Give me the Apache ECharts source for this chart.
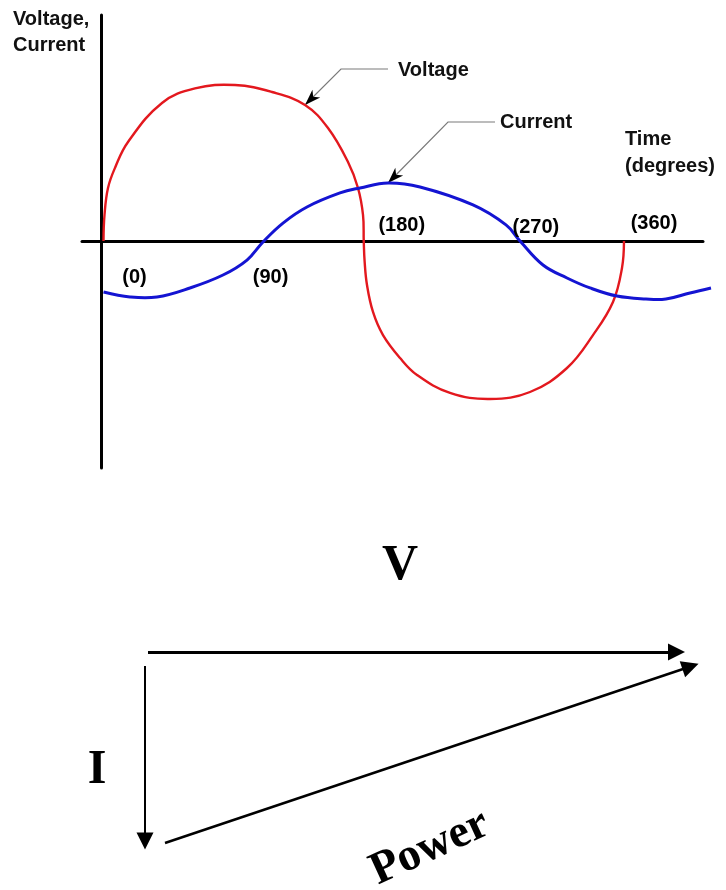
<!DOCTYPE html>
<html>
<head>
<meta charset="utf-8">
<script src="https://cdn.jsdelivr.net/npm/echarts@6/dist/echarts.min.js"></script>
<style>
  html, body { margin: 0; padding: 0; background: #fff; }
  #main { width: 726px; height: 890px; }
</style>
</head>
<body>
<div id="main"></div>
<script>
// voltage: [time in degrees, amplitude relative to peak]
const voltage = [
  [0, 0], [0.69, 0.167], [3.11, 0.34], [8, 0.47], [16.95, 0.635], [40.46, 0.885],
  [63.29, 0.978], [90.95, 1.0], [116.54, 0.955], [139.37, 0.872], [155.28, 0.724],
  [169.11, 0.506], [176.03, 0.34], [179.49, 0.167], [180, 0],
  [180.6, -0.13], [182.25, -0.282], [186.4, -0.455], [193.32, -0.603], [205.1, -0.75],
  [216.84, -0.859], [239.66, -0.974], [267.33, -1.013], [295, -0.968], [320.58, -0.814],
  [338.56, -0.603], [352.39, -0.391], [358.62, -0.173], [360, 0]
]
// current, same units
const current = [
  [0, -0.327], [18.33, -0.359], [37, -0.359], [59.83, -0.301], [82.65, -0.218],
  [99.25, -0.122], [110.32, -0.006], [124.15, 0.115], [140.75, 0.218], [163.58, 0.308],
  [177.41, 0.34], [196.78, 0.372], [218.91, 0.346], [255.57, 0.231], [278.39, 0.103],
  [288.08, 0], [303.99, -0.154], [320.58, -0.237], [336.49, -0.301], [355.16, -0.353],
  [375.22, -0.372], [389.05, -0.372], [405.65, -0.333], [420.18, -0.301]
]
const tickDegrees = [0, 90, 180, 270, 360]

// phasor diagram, diagram units
const phasorNames = ['V', 'I', 'Power']
const phasorStart = [[0.56, 0], [0.5, -0.28], [0.9, -3.82]]
const phasorEnd = [[11.13, 0], [0.5, -3.78], [11.41, -0.29]]

// where the callouts point to on the curves
const calloutNames = ['Voltage', 'Current']
const calloutPoints = [[139.37, 0.872], [196.78, 0.372]]

// layout only
const tickLabelOffset = [[31, 36], [37, 36], [38, -16], [42, -14], [30, -18]]
const calloutLayout = [
  { elbow: [341, 69], end: [388, 69], text: [398, 70] },
  { elbow: [448, 122], end: [495, 122], text: [500, 122] }
]
const phasorWidth = [3, 2, 2.5]

const sans = '"Liberation Sans", Arial, sans-serif'
const serif = '"Liberation Serif", "Times New Roman", serif'
const ink = '#111'

var chartDom = document.getElementById('main')
var myChart = echarts.init(chartDom)

const hiddenAxis = { show: false }

// one smooth path through all points of the series (drawn once, on the first item)
function curve(color, width) {
  return function (params, api) {
    if (params.dataIndexInside !== 0) return null
    const pts = []
    for (let i = 0; i < params.dataInsideLength; i++) {
      pts.push(api.coord([api.value(0, i), api.value(1, i)]))
    }
    return {
      type: 'polyline', silent: true,
      shape: { points: pts, smooth: 0.4 },
      style: { stroke: color, lineWidth: width, fill: null, lineJoin: 'round' }
    }
  }
}

var option = {
  animation: false,
  backgroundColor: '#fff',
  textStyle: { fontFamily: sans },
  grid: [
    { left: 82, right: 23, top: 15, bottom: 422 },
    { left: 120, width: 600, top: 602, height: 250 }
  ],
  xAxis: [
    {
      type: 'value', gridIndex: 0, min: -14.87, max: 414.65,
      axisLine: { onZero: true, lineStyle: { color: '#000', width: 3 } },
      axisTick: { show: false }, axisLabel: { show: false }, splitLine: { show: false }
    },
    Object.assign({ type: 'value', gridIndex: 1, min: 0, max: 12 }, hiddenAxis)
  ],
  yAxis: [
    {
      type: 'value', gridIndex: 0, min: -1.4551, max: 1.4487,
      offset: -19,
      axisLine: { onZero: false, lineStyle: { color: '#000', width: 3 } },
      axisTick: { show: false }, axisLabel: { show: false }, splitLine: { show: false }
    },
    Object.assign({ type: 'value', gridIndex: 1, min: -4, max: 1 }, hiddenAxis)
  ],
  series: [
    {
      name: 'Voltage', type: 'custom', xAxisIndex: 0, yAxisIndex: 0,
      data: voltage, encode: { x: 0, y: 1 }, clip: false,
      renderItem: curve('#e3181e', 2.4)
    },
    {
      name: 'Current', type: 'custom', xAxisIndex: 0, yAxisIndex: 0,
      data: current, encode: { x: 0, y: 1 }, clip: false,
      renderItem: curve('#1414d2', 3)
    },
    {
      name: 'ticks', type: 'scatter', xAxisIndex: 0, yAxisIndex: 0,
      symbolSize: 1, itemStyle: { color: 'transparent', opacity: 1 }, silent: true,
      data: tickDegrees.map((d, i) => ({
        value: [d, 0],
        label: { offset: tickLabelOffset[i] }
      })),
      label: {
        show: true, position: 'inside', opacity: 1,
        formatter: p => '(' + p.value[0] + ')',
        color: '#000', fontSize: 20, fontWeight: 'bold', fontFamily: sans
      }
    },
    {
      name: 'phasors', type: 'lines', coordinateSystem: 'cartesian2d',
      xAxisIndex: 1, yAxisIndex: 1, silent: true,
      symbol: ['none', 'triangle'], symbolSize: [0, 17],
      data: phasorNames.map((n, i) => ({
        name: n,
        coords: [phasorStart[i], phasorEnd[i]],
        lineStyle: { width: phasorWidth[i] }
      })),
      lineStyle: { color: '#000', opacity: 1, curveness: 0 }
    }
  ]
}
option && myChart.setOption(option)

// arrow head with a small notch at the back
function arrowHead(tip, from, len, half) {
  const dx = tip[0] - from[0], dy = tip[1] - from[1]
  const d = Math.hypot(dx, dy)
  const ux = dx / d, uy = dy / d
  const bx = tip[0] - ux * len, by = tip[1] - uy * len
  const nx = -uy, ny = ux
  const mx = tip[0] - ux * len * 0.72, my = tip[1] - uy * len * 0.72
  return [tip, [bx + nx * half, by + ny * half], [mx, my], [bx - nx * half, by - ny * half]]
}

let graphics = []
calloutNames.forEach((name, i) => {
  const tip = myChart.convertToPixel({ gridIndex: 0 }, calloutPoints[i])
  const lay = calloutLayout[i]
  graphics.push({
    type: 'polyline',
    shape: { points: [lay.end, lay.elbow, tip] },
    style: { stroke: '#7a7a7a', lineWidth: 1.2, fill: null }
  })
  graphics.push({
    type: 'polygon',
    shape: { points: arrowHead(tip, lay.elbow, 16, 5.5) },
    style: { fill: '#000' }
  })
  graphics.push({
    type: 'text', x: lay.text[0], y: lay.text[1],
    style: { text: name, font: 'bold 20px ' + sans, fill: ink, textAlign: 'left', textVerticalAlign: 'middle' }
  })
})

const plainTexts = [
  { text: 'Voltage,', x: 13, y: 19 },
  { text: 'Current', x: 13, y: 45 },
  { text: 'Time', x: 625, y: 139 },
  { text: '(degrees)', x: 625, y: 166 }
]
plainTexts.forEach(t => graphics.push({
  type: 'text', x: t.x, y: t.y,
  style: { text: t.text, font: 'bold 20px ' + sans, fill: ink, textAlign: 'left', textVerticalAlign: 'middle' }
}))

// phasor labels
graphics.push({
  type: 'text', x: 400, y: 566,
  style: { text: 'V', font: 'bold 50px ' + serif, fill: '#000', textAlign: 'center', textVerticalAlign: 'middle' }
})
graphics.push({
  type: 'text', x: 97, y: 771,
  style: { text: 'I', font: 'bold 48px ' + serif, fill: '#000', textAlign: 'center', textVerticalAlign: 'middle' }
})
graphics.push({
  type: 'text', x: 430, y: 848, rotation: 24.6 * Math.PI / 180,
  style: { text: 'Power', font: 'bold 46px ' + serif, fill: '#000', textAlign: 'center', textVerticalAlign: 'middle' }
})

myChart.setOption({ graphic: graphics })
</script>
</body>
</html>
